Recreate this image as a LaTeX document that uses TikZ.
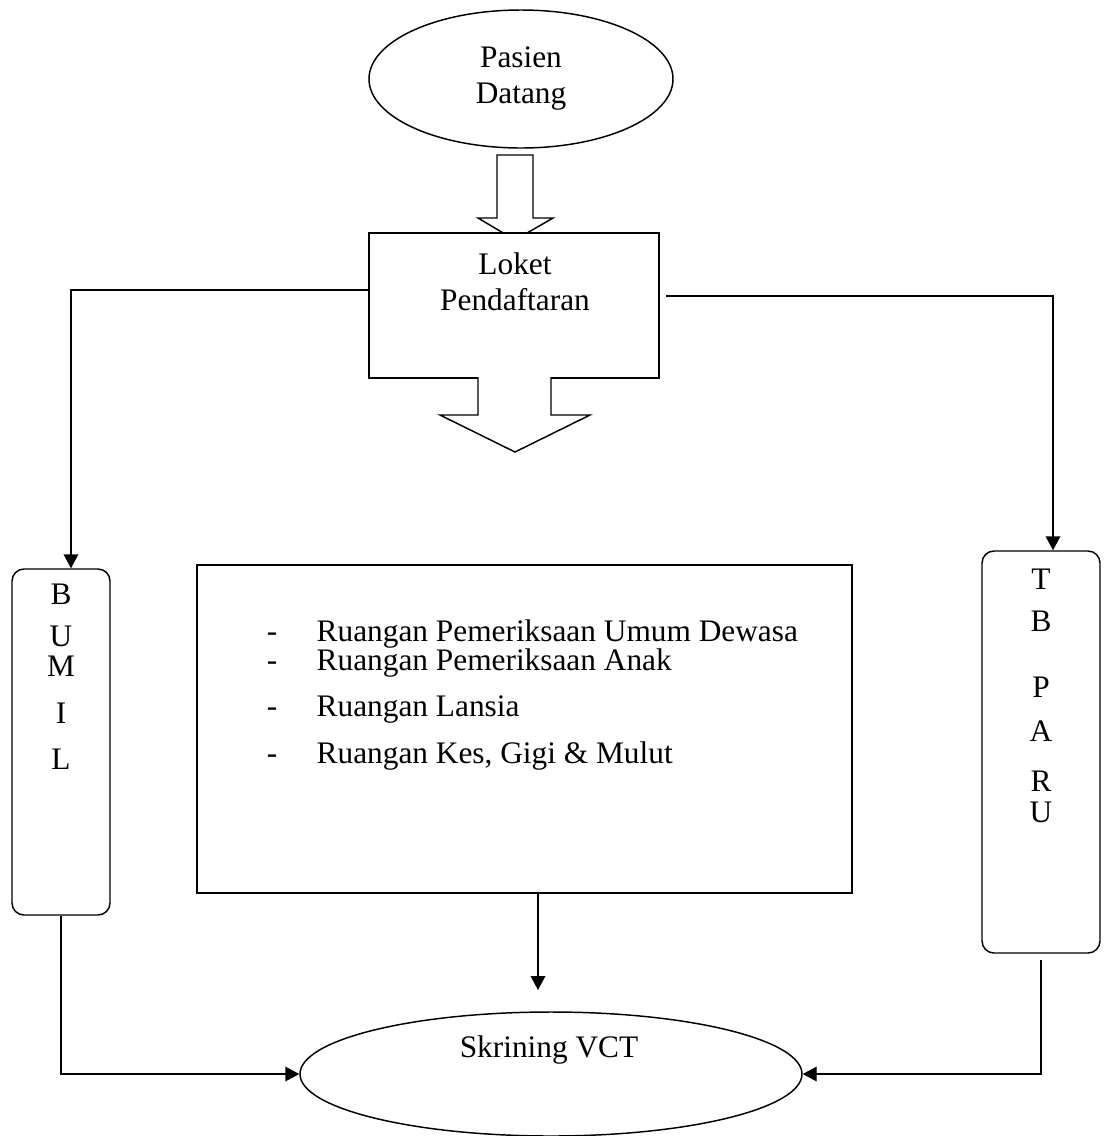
\documentclass[tikz,border=0pt]{standalone}
\usepackage{fontspec}
\setmainfont{Liberation Serif}
\usetikzlibrary{shapes.geometric,arrows.meta}
\begin{document}
\begin{tikzpicture}[x=0.75pt,y=-0.75pt,line width=1.1pt,
  teks/.style={font=\fontsize{23.5}{27}\selectfont,inner sep=0pt},
  kotak/.style={draw,fill=white,inner sep=0pt},
  bulat/.style={draw,ellipse,inner sep=0pt},
  panah/.style={-{Triangle[length=10.5pt,width=11pt]}}]
\useasboundingbox (0,0) rectangle (1104,1136);
\node[bulat,teks,align=center,minimum width=228pt,minimum height=103.5pt] (pasien) at (521,79) {Pasien\\Datang};
\draw[fill=white] (497,155) -- (533,155) -- (533,218) -- (553,218) -- (515,240) -- (478,218) -- (497,218) -- cycle;
\node[kotak,minimum width=217.5pt,minimum height=108.75pt] (loket) at (514,305.5) {};
\node[teks,align=center] (loketteks) at (515,282) {Loket\\Pendaftaran};
\path[draw,fill=white] (478,377) -- (478,415) -- (440,415) -- (515,452) -- (590,415) -- (551,415) -- (551,377);
\node[kotak,minimum width=491.25pt,minimum height=246pt] (ruang) at (524.5,729) {};
\foreach \y/\isi [count=\i] in {641/Ruangan Pemeriksaan Umum Dewasa,670/Ruangan Pemeriksaan Anak,716/Ruangan Lansia,763/Ruangan Kes{,} Gigi \& Mulut}{
  \node[teks,anchor=base] (strip\i) at (272,\y) {-};
  \node[teks,anchor=base west] (ruang\i) at (316,\y) {\isi};
}
\node[kotak,rounded corners=9pt,minimum width=73.5pt,minimum height=259.5pt] (bumil) at (61,742) {};
\foreach \h/\y in {B/594,U/636,M/666,I/713,L/759}
  \node[teks] (bumil\h) at (61,\y) {\h};
\node[kotak,rounded corners=9pt,minimum width=88.5pt,minimum height=301.5pt] (tbparu) at (1041,752) {};
\foreach \h/\y in {T/579,B/621,P/687,A/731,R/781,U/812}
  \node[teks] (tbparu\h) at (1041,\y) {\h};
\node[bulat,minimum width=376.5pt,minimum height=93pt] (skrining) at (551,1074) {};
\node[teks] (skriningteks) at (549,1050) {Skrining VCT};
\coordinate (kiri) at (71,290);
\draw[panah] (loket.west |- kiri) -- (kiri) -- (kiri |- bumil.north);
\coordinate (kanan) at (1053,296);
\draw[panah,shorten <=5pt] (loket.east |- kanan) -- (kanan) -- (kanan |- tbparu.north);
\coordinate (tengah) at (538,990);
\draw[panah] (tengah |- ruang.south) -- (tengah);
\draw[panah] (bumil.south) -- (bumil.south |- skrining.west) -- (skrining.west);
\draw[panah,shorten <=5pt] (tbparu.south) -- (tbparu.south |- skrining.east) -- (skrining.east);
\end{tikzpicture}
\end{document}
